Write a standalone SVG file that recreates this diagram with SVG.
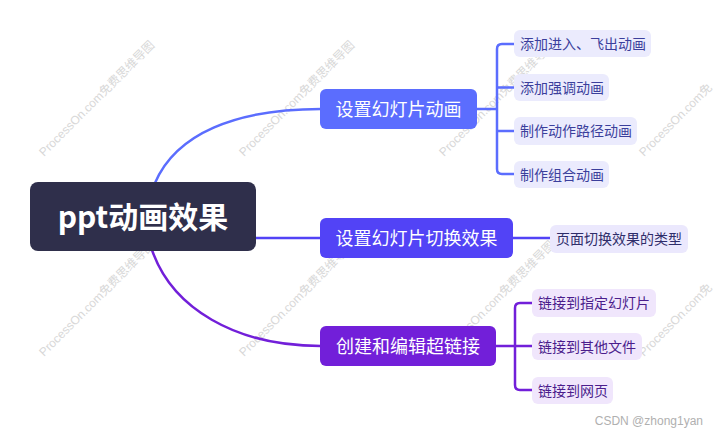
<svg xmlns="http://www.w3.org/2000/svg" width="718" height="434" viewBox="0 0 718 434">
<style>
.wm{font-family:"Liberation Sans","Noto Sans CJK SC",sans-serif;font-size:12px;fill:#d8d8d8;}
.root{font-family:"Noto Sans CJK SC","Liberation Sans",sans-serif;font-size:30px;font-weight:bold;fill:#fff;text-anchor:middle;}
.br{font-family:"Noto Sans CJK SC",sans-serif;font-size:18px;fill:#fff;text-anchor:middle;}
.lf{font-family:"Noto Sans CJK SC",sans-serif;font-size:14px;}
.lb rect{fill:#ebebfd;} .lb text{fill:#3b3f9c;}
.lm rect{fill:#ebe8fd;} .lm text{fill:#2f2d6a;}
.lp rect{fill:#f0e6fc;} .lp text{fill:#4b1d8c;}
.c{fill:none;stroke-width:2.5;stroke-linecap:round;}
</style>
<rect width="718" height="434" fill="#fff"/>
<g id="watermarks">
<text class="wm" transform="translate(44,157) rotate(-45)">ProcessOn.com免费思维导图</text>
<text class="wm" transform="translate(244,157) rotate(-45)">ProcessOn.com免费思维导图</text>
<text class="wm" transform="translate(444,157) rotate(-45)">ProcessOn.com免费思维导图</text>
<text class="wm" transform="translate(644,157) rotate(-45)">ProcessOn.com免</text>
<text class="wm" transform="translate(44,357) rotate(-45)">ProcessOn.com免费思维导图</text>
<text class="wm" transform="translate(244,357) rotate(-45)">ProcessOn.com免费思维导图</text>
<text class="wm" transform="translate(444,357) rotate(-45)">ProcessOn.com免费思维导图</text>
<text class="wm" transform="translate(644,357) rotate(-45)">ProcessOn.com免</text>
</g>
<g id="connectors">
<path class="c" stroke="#5b6dfe" d="M155,183 C176,134 235,109 321,109"/>
<path class="c" stroke="#5243f6" d="M255,238 L321,238"/>
<path class="c" stroke="#721fd9" d="M152,250 C172,308 235,346 321,346"/>
<path class="c" stroke="#5b6dfe" stroke-width="2" d="M477,109 H497 M514,44 H502 Q497,44 497,49 V169 Q497,174 502,174 H514 M497,87.5 H514 M497,131 H514"/>
<path class="c" stroke="#5243f6" stroke-width="2" d="M513,238 H550"/>
<path class="c" stroke="#721fd9" stroke-width="2" d="M496,346 H532 M532,303 H520 Q515,303 515,308 V385 Q515,390 520,390 H532"/>
</g>
<g id="root">
<rect x="30" y="182" width="226" height="69" rx="8" fill="#2f2f4b"/>
<text class="root" x="143" y="228">ppt动画效果</text>
</g>
<g id="b1">
<rect x="320" y="89" width="157" height="40" rx="6" fill="#5b6dfe"/>
<text class="br" x="398.5" y="115.5">设置幻灯片动画</text>
</g>
<g id="b2">
<rect x="320" y="218" width="193" height="40" rx="6" fill="#5243f6"/>
<text class="br" x="416.5" y="244.5">设置幻灯片切换效果</text>
</g>
<g id="b3">
<rect x="320" y="326" width="176" height="40" rx="6" fill="#721fd9"/>
<text class="br" x="408" y="352.5">创建和编辑超链接</text>
</g>
<g id="l1" class="lb"><rect x="514" y="30" width="137" height="27" rx="6"/><text class="lf" x="520" y="48.5">添加进入、飞出动画</text></g>
<g id="l2" class="lb"><rect x="514" y="74" width="95" height="27" rx="6"/><text class="lf" x="520" y="92.5">添加强调动画</text></g>
<g id="l3" class="lb"><rect x="514" y="117" width="123" height="28" rx="6"/><text class="lf" x="520" y="136">制作动作路径动画</text></g>
<g id="l4" class="lb"><rect x="514" y="161" width="95" height="27" rx="6"/><text class="lf" x="520" y="179.5">制作组合动画</text></g>
<g id="l5" class="lm"><rect x="550" y="225" width="138" height="28" rx="6"/><text class="lf" x="556" y="243.5">页面切换效果的类型</text></g>
<g id="l6" class="lp"><rect x="532" y="289" width="124" height="28" rx="6"/><text class="lf" x="538" y="308">链接到指定幻灯片</text></g>
<g id="l7" class="lp"><rect x="532" y="333" width="110" height="27" rx="6"/><text class="lf" x="538" y="351.5">链接到其他文件</text></g>
<g id="l8" class="lp"><rect x="532" y="377" width="81" height="27" rx="6"/><text class="lf" x="538" y="395.5">链接到网页</text></g>
<text x="703" y="425" text-anchor="end" font-family="Liberation Sans,sans-serif" font-size="12" fill="#b0b0b0">CSDN @zhong1yan</text>
</svg>
